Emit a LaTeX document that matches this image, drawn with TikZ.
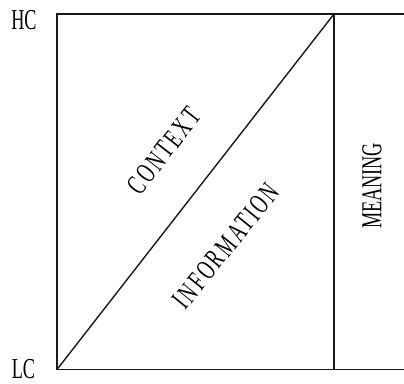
\documentclass[tikz,border=0pt]{standalone}
\usepackage{fontspec}
\newfontfamily\narrowfont[FakeStretch=0.63]{Liberation Serif}
\newfontfamily\narrowwidefont[FakeStretch=0.63,LetterSpace=9]{Liberation Serif}
\begin{document}
\begin{tikzpicture}[
    x=1bp, y=1bp,
    frame/.style={line width=1.4bp, black!90},
    axislabel/.style={font=\narrowfont\fontsize{29}{29}\selectfont, inner sep=0pt},
    arealabel/.style={font=\narrowwidefont\fontsize{29}{29}\selectfont, inner sep=0pt}
]
    % Fix the page size
    \useasboundingbox (0,0) rectangle (404,384);

    % Corners of the chart
    \coordinate (lc) at (57,14.5);
    \coordinate (hc) at (57,370);
    \coordinate (tr) at (334,370);
    \coordinate (br) at (334,14.5);
    \coordinate (tend) at (404,370);
    \coordinate (bend) at (404,14.5);

    % Frame and split lines
    \draw[frame] (bend) -- (lc) -- (hc) -- (tend);
    \draw[frame] (tr) -- (br);
    \draw[frame] (lc) -- (tr);

    % Axis labels
    \node[axislabel] (hclabel) at (24,363.5) {HC};
    \node[axislabel] (lclabel) at (23.5,14.5) {LC};

    % Area labels
    \node[arealabel, rotate=52] (context) at (164,233) {CONTEXT};
    \node[arealabel, rotate=51] (information) at (226,138) {INFORMATION};
    \node[axislabel, rotate=90] (meaning) at (372,198) {MEANING};
\end{tikzpicture}
\end{document}
